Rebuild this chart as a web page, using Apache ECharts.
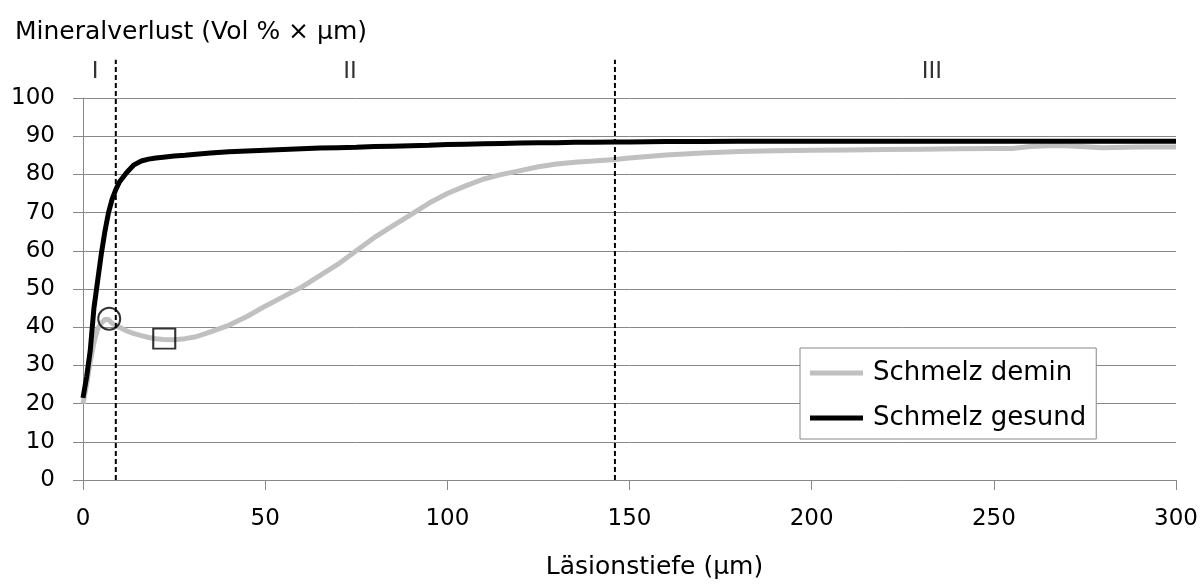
<!DOCTYPE html>
<html>
<head>
<meta charset="utf-8">
<script src="https://cdn.jsdelivr.net/npm/echarts@6/dist/echarts.min.js"></script>
<style>
html,body{margin:0;padding:0;background:#fff;}
#chart{width:1204px;height:588px;}
</style>
</head>
<body>
<div id="chart"></div>
<script>
const depth  = [0,1,2,3,4,5,6,7,8,9,10,12,14,16,18,20,22,25,28,31,35,40,45,50,55,60,65,70,75,80,85,90,95,100,105,110,115,120,125,130,135,140,146,150,160,170,180,190,200,210,220,230,240,250,255,260,265,270,280,290,300];
const demin  = [20,25,31,36,39.5,41,42,42,41,40.5,40,39,38.3,37.8,37.3,37,36.8,36.7,37,37.5,38.8,40.5,42.8,45.5,48,50.5,53.5,56.5,60,63.5,66.5,69.5,72.5,75,77,78.8,80,81,82,82.7,83.2,83.5,83.9,84.3,85.1,85.6,86,86.2,86.3,86.4,86.5,86.6,86.7,86.8,86.8,87.3,87.5,87.5,87,87.2,87.2];
const gesund = [21.5,27,34,45,52,59,65,70,73.5,76,78,80.5,82.5,83.5,84,84.3,84.5,84.8,85,85.3,85.6,85.9,86.1,86.3,86.5,86.7,86.9,87,87.1,87.3,87.4,87.5,87.6,87.8,87.9,88,88.1,88.2,88.3,88.3,88.4,88.4,88.5,88.5,88.6,88.6,88.7,88.7,88.7,88.7,88.7,88.7,88.7,88.7,88.7,88.7,88.7,88.7,88.7,88.7,88.7];
const seriesNames = ['Schmelz demin', 'Schmelz gesund'];
const regionBounds = [9, 146];
const regionLabels = ['I', 'II', 'III'];
const regionLabelX = [3.3, 73.3, 233];
const circleMark = [7.2, 42.2];
const squareMark = [22.3, 37];
const yTitle = 'Mineralverlust (Vol % × µm)';
const xTitle = 'Läsionstiefe (µm)';

const FONT = 'DejaVu Sans';
const chart = echarts.init(document.getElementById('chart'), null, {renderer:'canvas'});
const zip = (xs, ys) => xs.map((x,i)=>[x, ys[i]]);

const dashedSeries = regionBounds.map(b => ({
  type:'line', xAxisIndex:1, yAxisIndex:1, data:[[b,0],[b,110]],
  symbol:'none', lineStyle:{color:'#000', width:2, type:[5,3]}, silent:true, z:5
}));

chart.setOption({
  animation:false,
  backgroundColor:'#fff',
  textStyle:{fontFamily:FONT, color:'#000'},
  title:{text:yTitle, left:10, top:15, textStyle:{fontFamily:FONT, fontSize:25, fontWeight:'normal', color:'#000'}},
  grid:[
    {left:83, right:28, top:98, bottom:108, containLabel:false},
    {left:83, right:28, top:52, bottom:108, containLabel:false}
  ],
  legend:{
    data:seriesNames, orient:'vertical', left:800, top:348,
    padding:[10,10,6,10], itemGap:15, itemWidth:53, itemHeight:5, icon:'rect',
    borderColor:'#888', borderWidth:1, backgroundColor:'#fff',
    textStyle:{fontFamily:FONT, fontSize:26, color:'#000', lineHeight:30, padding:[0,0,0,5]}
  },
  xAxis:[
    {type:'value', gridIndex:0, min:0, max:300, interval:50,
     name:xTitle, nameLocation:'middle', nameGap:75,
     nameTextStyle:{fontFamily:FONT, fontSize:25, color:'#000', padding:[0,0,0,50]},
     axisLine:{show:true, lineStyle:{color:'#888', width:1}},
     axisTick:{show:true, length:10, lineStyle:{color:'#888'}},
     axisLabel:{fontFamily:FONT, fontSize:23, color:'#000', margin:28},
     splitLine:{show:false}},
    {type:'value', gridIndex:1, min:0, max:300, show:false}
  ],
  yAxis:[
    {type:'value', gridIndex:0, min:0, max:100, interval:10,
     axisLine:{show:true, lineStyle:{color:'#888', width:1}},
     axisTick:{show:true, length:10, lineStyle:{color:'#888'}},
     axisLabel:{fontFamily:FONT, fontSize:23, color:'#000', margin:28},
     splitLine:{show:true, lineStyle:{color:'#888', width:1}}},
    {type:'value', gridIndex:1, min:0, max:112, show:false}
  ],
  series:[
    {name:seriesNames[0], type:'line', data:zip(depth, demin), symbol:'none',
     lineStyle:{color:'#c0c0c0', width:5}, itemStyle:{color:'#c0c0c0'}, z:3},
    {name:seriesNames[1], type:'line', data:zip(depth, gesund), symbol:'none',
     lineStyle:{color:'#000', width:5}, itemStyle:{color:'#000'}, z:4},
    {type:'scatter', data:[circleMark], symbol:'circle', symbolSize:22,
     itemStyle:{color:'rgba(0,0,0,0)', borderColor:'#000', borderWidth:2}, z:6, silent:true},
    {type:'scatter', data:[squareMark], symbol:'rect', symbolSize:[22,20],
     itemStyle:{color:'rgba(0,0,0,0)', borderColor:'#000', borderWidth:2}, z:6, silent:true},
    ...dashedSeries,
    {type:'scatter', xAxisIndex:1, yAxisIndex:1, symbolSize:0, silent:true,
     data:regionLabelX.map((x,i)=>({value:[x,106.8], name:regionLabels[i]})),
     label:{show:true, position:'inside', formatter:p=>p.name, fontFamily:FONT, fontSize:23, color:'#000'}}
  ]
});
</script>
</body>
</html>
